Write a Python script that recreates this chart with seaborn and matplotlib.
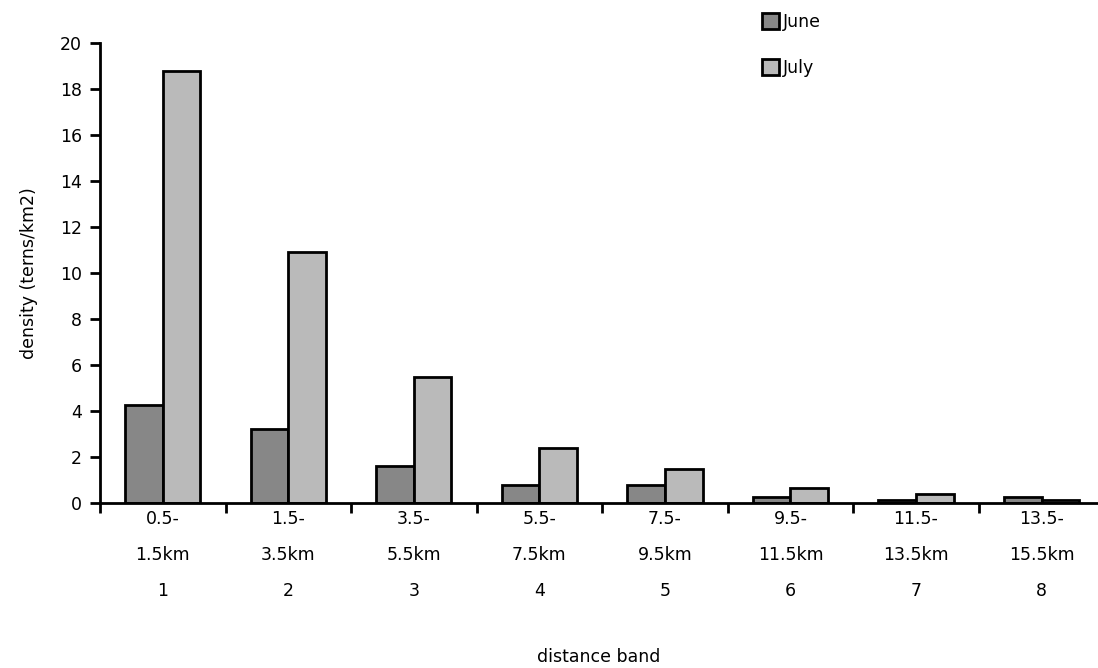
import matplotlib
matplotlib.use("Agg")
import matplotlib.pyplot as plt
from matplotlib.patches import Patch
import seaborn as sns
import pandas as pd

# Tern density by distance band, two survey months
bands = ["0.5-\n1.5km\n1", "1.5-\n3.5km\n2", "3.5-\n5.5km\n3", "5.5-\n7.5km\n4",
         "7.5-\n9.5km\n5", "9.5-\n11.5km\n6", "11.5-\n13.5km\n7", "13.5-\n15.5km\n8"]
june = [4.25, 3.2, 1.6, 0.77, 0.8, 0.26, 0.15, 0.27]
july = [18.8, 10.9, 5.5, 2.38, 1.48, 0.65, 0.41, 0.15]
months = ["June", "July"]

df = pd.DataFrame({
    "band": bands * 2,
    "month": [months[0]] * len(bands) + [months[1]] * len(bands),
    "density": june + july,
})

sns.set_theme(style="white")
plt.rcParams["font.family"] = ["DejaVu Sans"]
plt.rcParams["text.color"] = "black"
plt.rcParams["axes.labelcolor"] = "black"
plt.rcParams["xtick.color"] = "black"
plt.rcParams["ytick.color"] = "black"

FS = 12.5

fig = plt.figure(figsize=(10.98, 6.68), dpi=100)
ax = fig.add_axes([100 / 1098, 1 - 503 / 668, 998 / 1098, 460 / 668])

palette = {"June": "#878787", "July": "#bababa"}
sns.barplot(data=df, x="band", y="density", hue="month", order=bands,
            hue_order=months, palette=palette, width=0.6, gap=0,
            edgecolor="black", linewidth=2, saturation=1, ax=ax, legend=False)

ax.set_ylim(0, 20)
ax.set_yticks(range(0, 21, 2))
ax.set_xlim(-0.5, 7.45)

# Category ticks sit on the band boundaries; labels stay centred
ax.set_xticks([i - 0.5 for i in range(len(bands))], minor=False)
ax.set_xticklabels([])
ax.set_xticks(range(len(bands)), minor=True)
ax.set_xticklabels(bands, minor=True, fontsize=FS, linespacing=2.3)
ax.tick_params(axis="x", which="minor", length=0, pad=5)
ax.tick_params(axis="x", which="major", length=7, width=2, color="black",
               direction="out", bottom=True)
ax.tick_params(axis="y", length=7, width=2, color="black", direction="out",
               left=True, labelsize=FS, pad=6)

for side in ("top", "right"):
    ax.spines[side].set_visible(False)
for side in ("left", "bottom"):
    ax.spines[side].set_color("black")
    ax.spines[side].set_linewidth(2)

ax.set_xlabel("distance band", fontsize=FS, labelpad=34)
ax.set_ylabel("density (terns/km2)", fontsize=FS, labelpad=16)

handles = [Patch(facecolor=palette[m], edgecolor="black", linewidth=2) for m in months]
fig.legend(handles, months, loc="upper left", bbox_to_anchor=(762 / 1098, 1 - 13 / 668),
           frameon=False, fontsize=FS, handlelength=1.0, handleheight=1.0,
           handletextpad=0.2, labelspacing=1.6, borderpad=0, borderaxespad=0)

fig.savefig("out.png", dpi=100, facecolor="white")
